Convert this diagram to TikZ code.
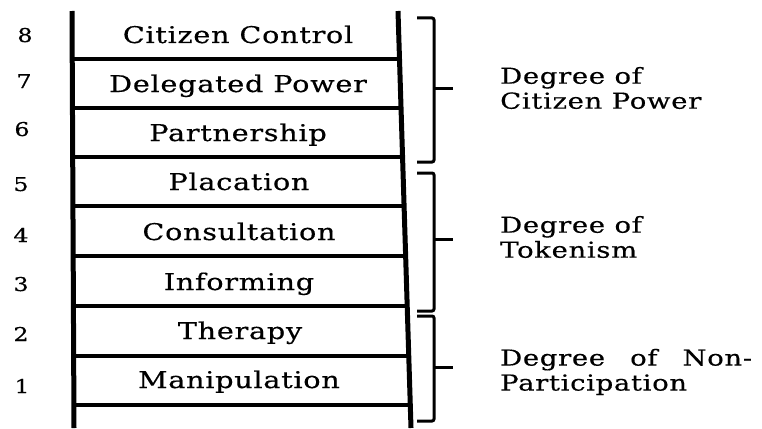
\documentclass[tikz,border=0pt]{standalone}
\usepackage{fontspec}
\setmainfont{DejaVu Serif}[FakeStretch=1.25,LetterSpace=3,FakeBold=0.4]
\usepackage{tikz}

\begin{document}
\begin{tikzpicture}[x=1pt,y=-1pt]
\tikzstyle{rail}=[line width=5pt]
\tikzstyle{rung}=[line width=3.5pt]
\tikzstyle{brace}=[line width=3pt,rounded corners=2pt]
\tikzstyle{rungtext}=[anchor=base,inner sep=0pt,font=\fontsize{23}{27}\selectfont]
\tikzstyle{level}=[anchor=base,inner sep=0pt,font=\fontsize{19}{22}\selectfont]
\tikzstyle{degree}=[anchor=west,align=left,inner sep=0pt,font=\fontsize{22}{25}\selectfont]

\useasboundingbox (0,0) rectangle (762,428);

% the two rails
\draw[rail] (72,11) -- (74,428);
\draw[rail] (398,11) -- (411,428);

% rungs
\draw[rung] (72.2,59) -- (399.5,59);
\draw[rung] (72.5,108) -- (401.0,108);
\draw[rung] (72.7,157) -- (402.6,157);
\draw[rung] (72.9,206) -- (404.1,206);
\draw[rung] (73.2,256) -- (405.6,256);
\draw[rung] (73.4,306) -- (407.2,306);
\draw[rung] (73.6,356) -- (408.8,356);
\draw[rung] (73.9,405) -- (410.3,405);

% steps of the ladder
\node[rungtext](s8) at (238,43){Citizen Control};
\node[rungtext](s7) at (238,92){Delegated Power};
\node[rungtext](s6) at (238,141){Partnership};
\node[rungtext](s5) at (239,190){Placation};
\node[rungtext](s4) at (239,240){Consultation};
\node[rungtext](s3) at (239,290){Informing};
\node[rungtext](s2) at (240,339){Therapy};
\node[rungtext](s1) at (239,388){Manipulation};

\node[level](n8) at (25,42){8};
\node[level](n7) at (24,88){7};
\node[level](n6) at (22,136){6};
\node[level](n5) at (21,191){5};
\node[level](n4) at (21,242){4};
\node[level](n3) at (21,291){3};
\node[level](n2) at (21,341){2};
\node[level](n1) at (22,393){1};

% brackets
\draw[brace] (417,18) -- (434,18) -- (434,162) -- (417,162);
\draw[brace] (434,88) -- (453,88);
\draw[brace] (417,173) -- (434,173) -- (434,311) -- (417,311);
\draw[brace] (434,239) -- (453,239);
\draw[brace] (417,316) -- (434,316) -- (434,421) -- (417,421);
\draw[brace] (434,367) -- (453,367);

\node[degree](power) at (500,88){Degree of\\Citizen Power};
\node[degree](token) at (500,237){Degree of\\Tokenism};
\node[degree](nonpart) at (500,372){Degree\hspace{25pt}of\hspace{25pt}Non-\\Participation};
\end{tikzpicture}
\end{document}
